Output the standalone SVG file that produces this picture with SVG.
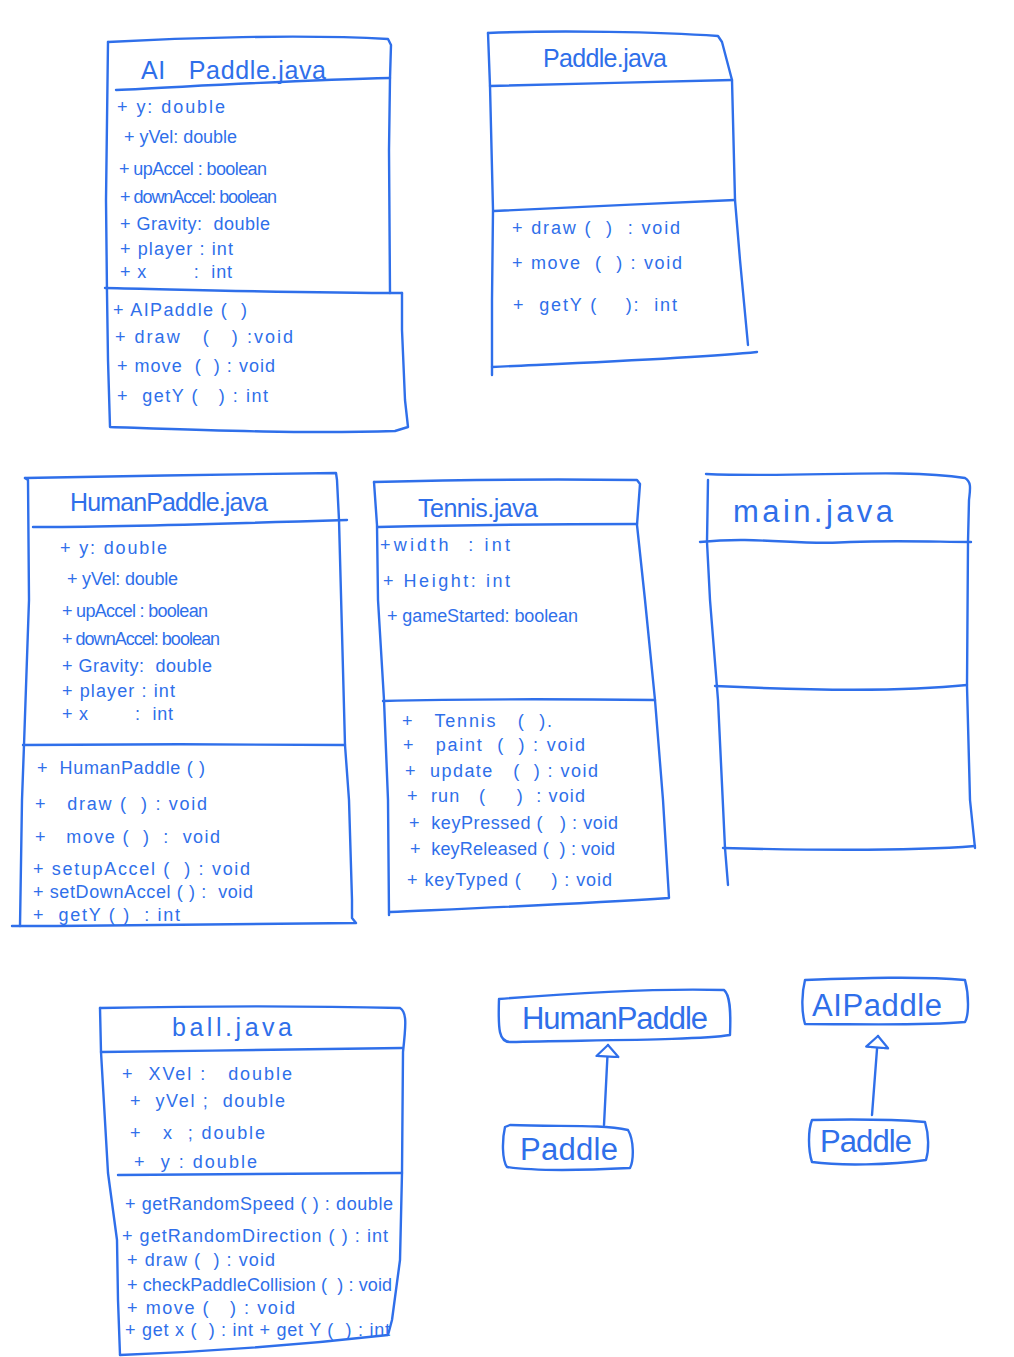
<svg xmlns="http://www.w3.org/2000/svg" width="1014" height="1357" viewBox="0 0 1014 1357">
<defs>
<style>
.ln{fill:none;stroke:#2f6fea;stroke-width:2.4;stroke-linecap:round;stroke-linejoin:round}
.t{fill:#2f6fea;font-family:"Liberation Sans","DejaVu Sans",sans-serif;font-size:18px;white-space:pre}
.ti{fill:#2f6fea;font-family:"Liberation Sans","DejaVu Sans",sans-serif;font-size:25px;white-space:pre}
.big{fill:#2f6fea;font-family:"Liberation Sans","DejaVu Sans",sans-serif;font-size:31px}
</style>
<marker id="tri" viewBox="0 0 16 26" refX="13" refY="13" markerWidth="16" markerHeight="26" markerUnits="userSpaceOnUse" orient="auto">
<path d="M1.5,2 L13,13 L1.5,24 Z" fill="#ffffff" stroke="#2f6fea" stroke-width="2.2" stroke-linejoin="round"/>
</marker>
</defs>
<rect width="1014" height="1357" fill="#ffffff"/>

<g id="ai-paddle-java">
<path class="ln" d="M108,42 C180,38 300,34 388,39 L391,45 L390,78 L389,150 L390,293"/>
<path class="ln" d="M402,293 L402,330 L405,400 L408,427 L395,431 C300,434 200,430 110,427 L108,360 L107,293 L106,200 L108,42"/>
<path class="ln" d="M116,90 C200,86 300,80 390,78"/>
<path class="ln" d="M105,288 C200,290 300,293 402,293"/>
<text class="ti" x="141" y="79" textLength="185">AI   Paddle.java</text>
<text class="t" x="117" y="113" textLength="108">+ y: double</text>
<text class="t" x="124" y="143" textLength="113">+ yVel: double</text>
<text class="t" x="119" y="175" textLength="148">+ upAccel : boolean</text>
<text class="t" x="120" y="203" textLength="157">+ downAccel: boolean</text>
<text class="t" x="120" y="230" textLength="150">+ Gravity:  double</text>
<text class="t" x="120" y="255" textLength="113">+ player : int</text>
<text class="t" x="120" y="278" textLength="112">+ x        :  int</text>
<text class="t" x="113" y="316" textLength="134">+ AIPaddle (  )</text>
<text class="t" x="115" y="343" textLength="178">+ draw   (   ) :void</text>
<text class="t" x="117" y="372" textLength="158">+ move  (  ) : void</text>
<text class="t" x="117" y="402" textLength="151">+  getY (   ) : int</text>
</g>

<g id="paddle-java">
<path class="ln" d="M488,33 C560,30 660,32 718,36 L722,42 L732,80 L735,200 L740,260 L748,345"/>
<path class="ln" d="M757,352 C700,358 600,362 492,367"/>
<path class="ln" d="M492,375 L492,300 L493,210 L490,86 L488,33"/>
<path class="ln" d="M490,86 C560,84 660,82 732,80"/>
<path class="ln" d="M494,211 C560,208 660,203 735,200"/>
<text class="ti" x="543" y="67" textLength="124">Paddle.java</text>
<text class="t" x="512" y="234" textLength="168">+ draw (  )  : void</text>
<text class="t" x="512" y="269" textLength="170">+ move  (  ) : void</text>
<text class="t" x="513" y="311" textLength="164">+  getY (    ):  int</text>
</g>

<g id="humanpaddle-java">
<path class="ln" d="M25,478 C120,476 250,474 336,473 L337,480 L339,520 L345,745 L349,800 L352,900 L352,918 L356,923 C250,925 130,926 12,926"/>
<path class="ln" d="M20,926 L22,800 L24,745 L29,600 L28,480 L25,478"/>
<path class="ln" d="M33,527 C120,527 250,523 347,520"/>
<path class="ln" d="M23,745 C120,744 250,744 345,745"/>
<text class="ti" x="70" y="511" textLength="198">HumanPaddle.java</text>
<text class="t" x="60" y="554" textLength="107">+ y: double</text>
<text class="t" x="67" y="585" textLength="111">+ yVel: double</text>
<text class="t" x="62" y="617" textLength="146">+ upAccel : boolean</text>
<text class="t" x="62" y="645" textLength="158">+ downAccel: boolean</text>
<text class="t" x="62" y="672" textLength="150">+ Gravity:  double</text>
<text class="t" x="62" y="697" textLength="113">+ player : int</text>
<text class="t" x="62" y="720" textLength="111">+ x        :  int</text>
<text class="t" x="37" y="774" textLength="168">+  HumanPaddle ( )</text>
<text class="t" x="35" y="810" textLength="172">+   draw (  ) : void</text>
<text class="t" x="35" y="843" textLength="185">+   move (  )  :  void</text>
<text class="t" x="33" y="875" textLength="217">+ setupAccel (  ) : void</text>
<text class="t" x="33" y="898" textLength="220">+ setDownAccel ( ) :  void</text>
<text class="t" x="33" y="921" textLength="147">+  getY ( )  : int</text>
</g>

<g id="tennis-java">
<path class="ln" d="M374,482 C450,480 560,479 637,480 L640,484 L637,525 L645,600 L655,700 L663,800 L669,898 C580,904 480,908 390,912"/>
<path class="ln" d="M389,915 L388,800 L384,700 L378,600 L377,525 L374,482"/>
<path class="ln" d="M378,527 C460,525 560,524 637,524"/>
<path class="ln" d="M383,701 C460,699 560,699 655,700"/>
<text class="ti" x="418" y="517" textLength="120">Tennis.java</text>
<text class="t" x="380" y="551" textLength="130">+width  : int</text>
<text class="t" x="383" y="587" textLength="127">+ Height: int</text>
<text class="t" x="387" y="622" textLength="191">+ gameStarted: boolean</text>
<text class="t" x="402" y="727" textLength="150">+   Tennis   (  ).</text>
<text class="t" x="403" y="751" textLength="182">+   paint  (  ) : void</text>
<text class="t" x="405" y="777" textLength="193">+  update   (  ) : void</text>
<text class="t" x="407" y="802" textLength="178">+  run   (     )  : void</text>
<text class="t" x="409" y="829" textLength="209">+  keyPressed (   ) : void</text>
<text class="t" x="410" y="855" textLength="205">+  keyReleased (  ) : void</text>
<text class="t" x="407" y="886" textLength="205">+ keyTyped (     ) : void</text>
</g>

<g id="main-java">
<path class="ln" d="M706,474 C800,478 900,468 965,478 C972,482 970,490 969,500 L968,542 L967,686 L970,800 L975,848"/>
<path class="ln" d="M728,885 L725,848 L718,700 L710,600 L707,542 L708,480"/>
<path class="ln" d="M700,542 C760,536 800,546 850,542 C900,540 940,542 971,542"/>
<path class="ln" d="M715,686 C800,690 900,692 967,685"/>
<path class="ln" d="M723,848 C800,850 900,852 975,846"/>
<text class="big" x="733" y="522" textLength="160">main.java</text>
</g>

<g id="ball-java">
<path class="ln" d="M100,1008 C200,1006 320,1006 400,1008 C407,1012 406,1025 403,1052 L402,1173 L400,1260 L392,1320 L388,1335 C300,1345 200,1352 120,1355"/>
<path class="ln" d="M120,1355 L118,1300 L117,1240 L108,1173 L101,1052 L100,1008"/>
<path class="ln" d="M101,1052 C200,1051 320,1049 402,1048"/>
<path class="ln" d="M118,1175 C220,1174 320,1173 402,1173"/>
<text class="ti" x="172" y="1036" textLength="120">ball.java</text>
<text class="t" x="122" y="1080" textLength="170">+  XVel :   double</text>
<text class="t" x="130" y="1107" textLength="155">+  yVel ;  double</text>
<text class="t" x="130" y="1139" textLength="135">+   x  ; double</text>
<text class="t" x="134" y="1168" textLength="123">+  y : double</text>
<text class="t" x="125" y="1210" textLength="268">+ getRandomSpeed ( ) : double</text>
<text class="t" x="122" y="1242" textLength="266">+ getRandomDirection ( ) : int</text>
<text class="t" x="127" y="1266" textLength="148">+ draw (  ) : void</text>
<text class="t" x="127" y="1291" textLength="265">+ checkPaddleCollision (  ) : void</text>
<text class="t" x="127" y="1314" textLength="168">+ move (   ) : void</text>
<text class="t" x="125" y="1336" textLength="265">+ get x (  ) : int + get Y (  ) : int</text>
</g>

<g id="humanpaddle">
<path class="ln" d="M499,999 C560,994 650,988 724,990 C730,995 731,1010 730,1035 C700,1040 600,1040 510,1042 C499,1042 498,1030 499,999 Z"/>
<text class="big" x="522" y="1029" textLength="186">HumanPaddle</text>
</g>

<g id="paddle-1">
<path class="ln" d="M510,1125 C560,1127 600,1124 628,1130 C634,1140 634,1160 630,1168 C590,1170 540,1172 507,1167 C502,1160 502,1140 505,1127 Z"/>
<text class="big" x="520" y="1160" textLength="98">Paddle</text>
</g>

<g id="aipaddle">
<path class="ln" d="M805,980 C860,978 920,976 965,980 C969,995 969,1015 965,1022 C920,1026 860,1024 805,1024 C801,1010 802,992 805,980 Z"/>
<text class="big" x="812" y="1016" textLength="130">AIPaddle</text>
</g>

<g id="paddle-2">
<path class="ln" d="M812,1120 C860,1119 900,1120 925,1122 C929,1135 929,1150 926,1160 C890,1165 840,1166 812,1162 C808,1150 808,1130 812,1120 Z"/>
<text class="big" x="820" y="1152" textLength="92">Paddle</text>
</g>

<g id="connectors">
<path class="ln" d="M604,1125 L608,1045" marker-end="url(#tri)"/>
<path class="ln" d="M872,1115 L878,1036" marker-end="url(#tri)"/>
</g>
</svg>
